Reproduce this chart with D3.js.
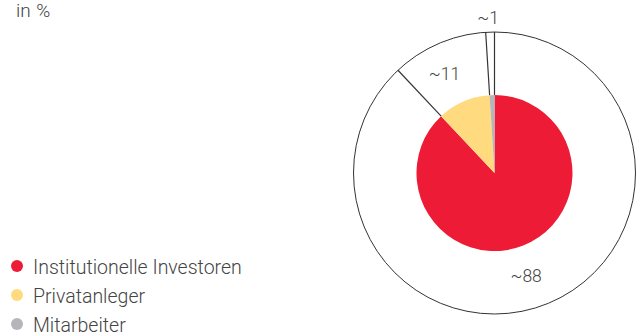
<!DOCTYPE html>
<html>
<head>
<meta charset="utf-8">
<script src="https://cdn.jsdelivr.net/npm/d3@7"></script>
<style>
  html, body { margin: 0; padding: 0; background: #fff; }
  svg { display: block; }
  text { font-family: Roboto, "Liberation Sans", sans-serif; font-weight: 300; fill: #444; }
</style>
</head>
<body>
<svg id="chart" width="638" height="333"></svg>
<script>
// Shareholder structure, in percent
const categories = ["Institutionelle Investoren", "Privatanleger", "Mitarbeiter"];
const values = [88, 11, 1];
const valueLabels = ["~88", "~11", "~1"];
const colors = ["#ED1B36", "#FFDA7E", "#B5B6BA"];

const svg = d3.select("#chart");
const cx = 494.5, cy = 173;
const innerR = 78, outerR = 141;

svg.append("text")
  .attr("x", 16).attr("y", 17)
  .style("font-size", "19px")
  .style("word-spacing", "1px")
  .text("in %");

const g = svg.append("g").attr("transform", `translate(${cx},${cy})`);

const pie = d3.pie().sort(null).value(d => d);
const arcs = pie(values);
const arc = d3.arc().innerRadius(0).outerRadius(innerR);

// outer ring
g.append("circle")
  .attr("r", outerR)
  .attr("fill", "none")
  .attr("stroke", "#333")
  .attr("stroke-width", 1);

g.selectAll("path.slice")
  .data(arcs)
  .enter().append("path")
  .attr("class", "slice")
  .attr("d", arc)
  .attr("fill", (d, i) => colors[i]);

// separators from the pie edge out to the ring, one per slice boundary
const boundaries = arcs.map(d => d.startAngle);
g.selectAll("line.sep")
  .data(boundaries)
  .enter().append("line")
  .attr("class", "sep")
  .attr("x1", a => innerR * Math.sin(a))
  .attr("y1", a => -innerR * Math.cos(a))
  .attr("x2", a => outerR * Math.sin(a))
  .attr("y2", a => -outerR * Math.cos(a))
  .attr("stroke", "#333")
  .attr("stroke-width", 1.2);

// value labels: radius and angle nudge per slice
const labelR = [108, 111, 155];
const labelNudge = [0.08, -0.06, -0.01];
g.selectAll("text.val")
  .data(arcs)
  .enter().append("text")
  .attr("class", "val")
  .attr("text-anchor", "middle")
  .attr("dy", "0.35em")
  .style("font-size", "17.5px")
  .attr("x", (d, i) => labelR[i] * Math.sin((d.startAngle + d.endAngle) / 2 + labelNudge[i]))
  .attr("y", (d, i) => -labelR[i] * Math.cos((d.startAngle + d.endAngle) / 2 + labelNudge[i]))
  .text((d, i) => valueLabels[i]);

// legend
const legend = svg.append("g").attr("transform", "translate(17,266)");
const item = legend.selectAll("g")
  .data(categories)
  .enter().append("g")
  .attr("transform", (d, i) => `translate(0,${i * 29})`);
item.append("circle").attr("r", 6).attr("fill", (d, i) => colors[i]);
item.append("text")
  .attr("x", 16).attr("y", 7.5)
  .style("font-size", "19.5px")
  .text(d => d);
</script>
</body>
</html>
